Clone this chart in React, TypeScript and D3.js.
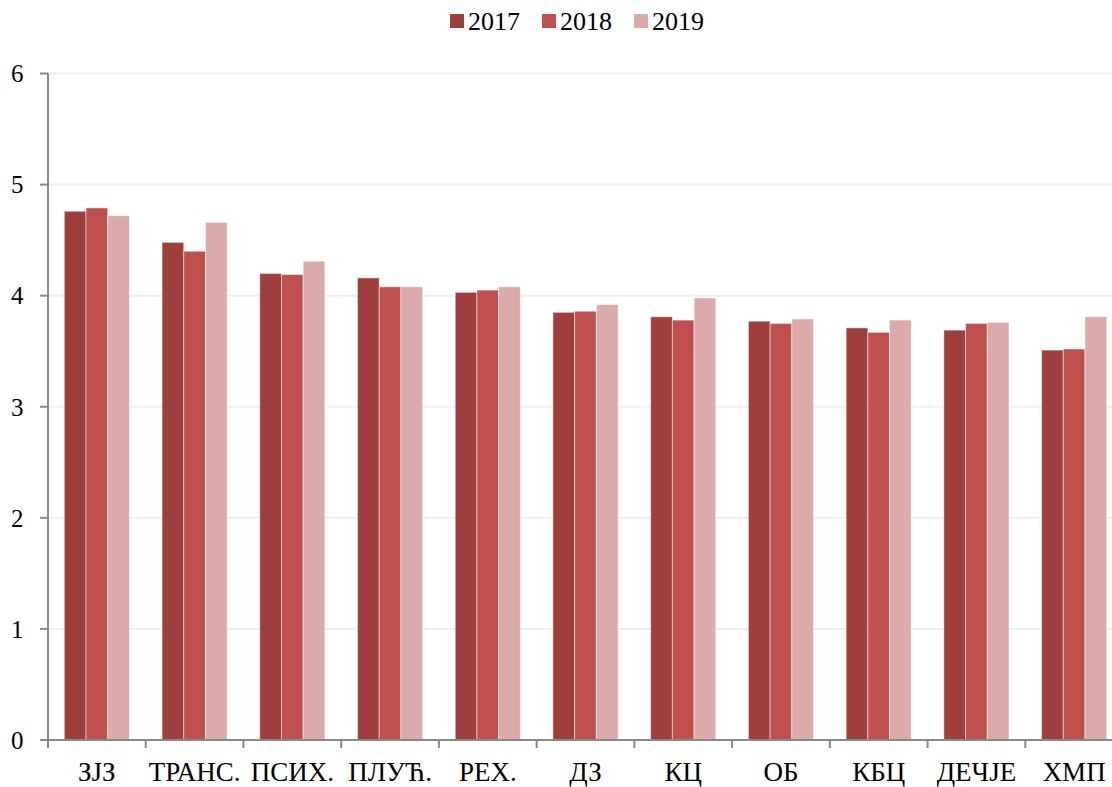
import React from 'react';
import * as d3 from 'd3';

const categories = ['ЗЈЗ', 'ТРАНС.', 'ПСИХ.', 'ПЛУЋ.', 'РЕХ.', 'ДЗ', 'КЦ', 'ОБ', 'КБЦ', 'ДЕЧЈЕ', 'ХМП'];
const years = ['2017', '2018', '2019'];
const values2017 = [4.76, 4.48, 4.2, 4.16, 4.03, 3.85, 3.81, 3.77, 3.71, 3.69, 3.51];
const values2018 = [4.79, 4.4, 4.19, 4.08, 4.05, 3.86, 3.78, 3.75, 3.67, 3.75, 3.52];
const values2019 = [4.72, 4.66, 4.31, 4.08, 4.08, 3.92, 3.98, 3.79, 3.78, 3.76, 3.81];
const yTicks = [0, 1, 2, 3, 4, 5, 6];
const colors = ['#9e3f3e', '#c0504d', '#dbaaaa'];

const W = 1112;
const H = 787;
const left = 48;
const right = 1123;
const top = 73.5;
const bottom = 740;
const font = '"Liberation Serif", "Times New Roman", serif';

const App = () => {
  const series = [values2017, values2018, values2019];
  const x = d3.scaleBand().domain(categories).range([left, right]).padding(0);
  const inner = d3
    .scaleBand()
    .domain(years)
    .range([16.3, x.bandwidth() - 16.3])
    .padding(0);
  const y = d3.scaleLinear().domain([0, 6]).range([bottom, top]);

  const legendX = [450, 542, 634];

  return (
    <svg width={W} height={H} style={{ display: 'block', position: 'absolute', left: 0, top: 0 }}>
      <rect width={W} height={H} fill="#fff" />
      {yTicks.slice(1).map((t) => (
        <line key={t} x1={left} x2={right} y1={y(t)} y2={y(t)} stroke="#efefef" strokeWidth={2} />
      ))}
      {categories.map((c, i) =>
        series.map((s, j) => (
          <rect
            key={c + j}
            x={x(c)! + inner(years[j])!}
            y={y(s[i])}
            width={inner.bandwidth()}
            height={bottom - y(s[i])}
            fill={colors[j]}
            stroke="#fff"
            strokeOpacity={0.5}
            strokeWidth={1}
          />
        ))
      )}
      <line x1={left} x2={left} y1={top} y2={bottom} stroke="#898989" strokeWidth={2} />
      <line x1={left - 8} x2={right} y1={bottom} y2={bottom} stroke="#898989" strokeWidth={2} />
      {yTicks.map((t) => (
        <g key={t}>
          <line x1={left - 8} x2={left} y1={y(t)} y2={y(t)} stroke="#898989" strokeWidth={2} />
          <text x={11} y={y(t)} dy="0.35em" fontFamily={font} fontSize={25} fill="#000">
            {t}
          </text>
        </g>
      ))}
      {categories.map((c) => (
        <g key={c}>
          <line x1={x(c)!} x2={x(c)!} y1={bottom} y2={bottom + 8} stroke="#898989" strokeWidth={2} />
          <text
            x={x(c)! + x.bandwidth() / 2}
            y={781}
            textAnchor="middle"
            fontFamily={font}
            fontSize={27}
            fill="#000"
          >
            {c}
          </text>
        </g>
      ))}
      {years.map((yr, j) => (
        <g key={yr}>
          <rect x={legendX[j]} y={14} width={14} height={14} fill={colors[j]} />
          <text x={legendX[j] + 18} y={21} dy="0.35em" fontFamily={font} fontSize={26} fill="#000">
            {yr}
          </text>
        </g>
      ))}
    </svg>
  );
};

export default App;
